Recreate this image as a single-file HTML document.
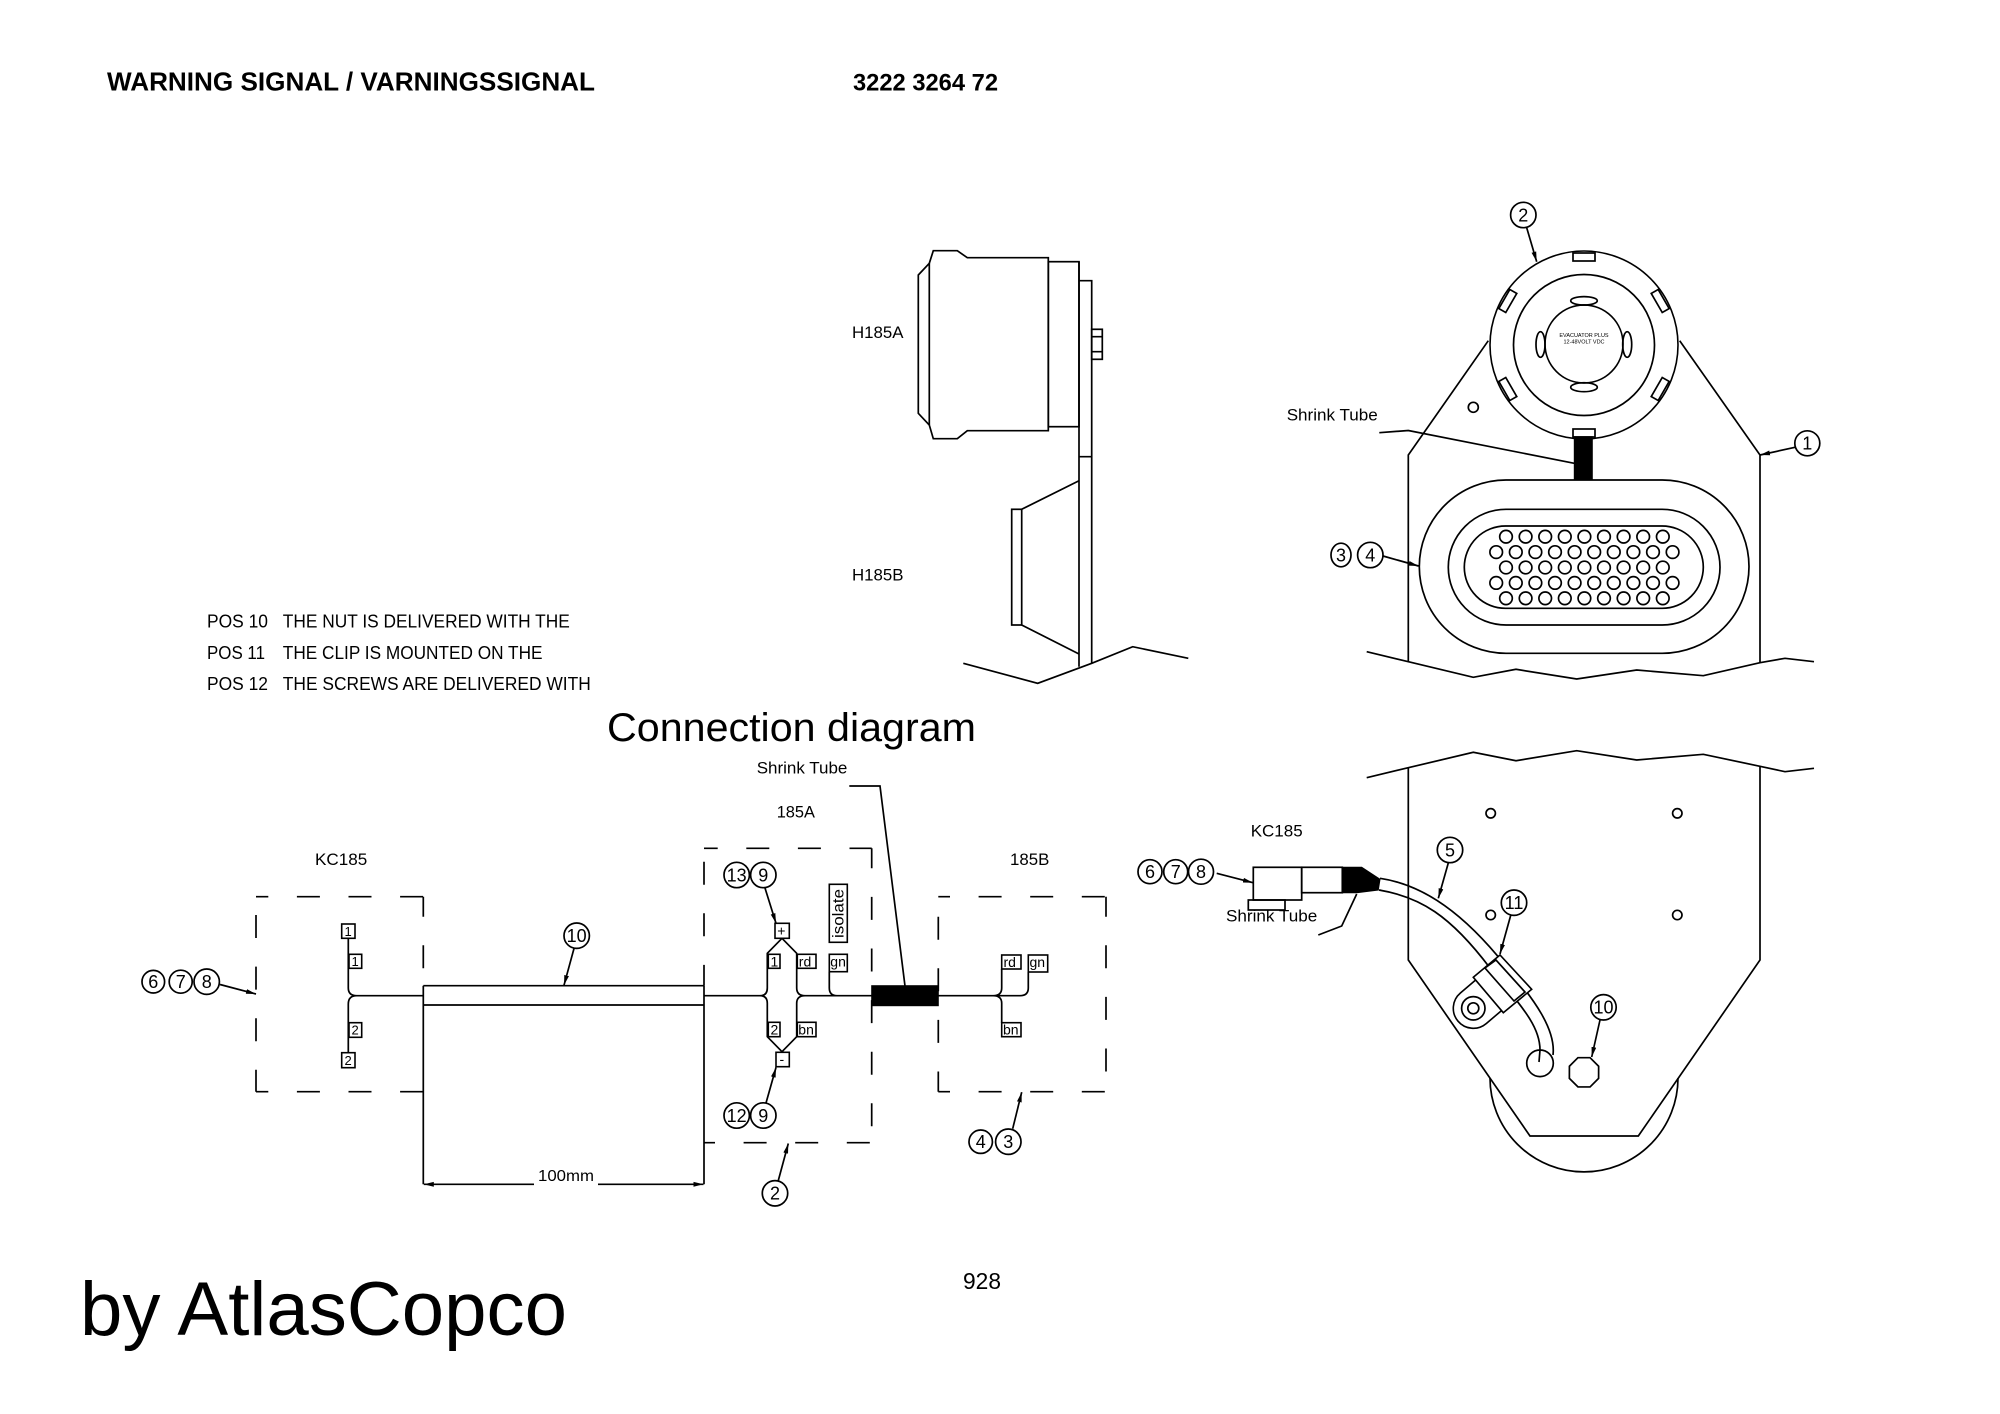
<!DOCTYPE html>
<html><head><meta charset="utf-8"><style>
html,body{margin:0;padding:0;background:#fff;}
svg{display:block;}
text{font-family:"Liberation Sans",Arial,sans-serif;fill:#000;}
.s{fill:none;stroke:#000;stroke-width:1.7;}
.d{fill:none;stroke:#000;stroke-width:1.7;stroke-dasharray:23 28.6;}
.b{fill:#000;stroke:#000;stroke-width:1;}
.w{fill:#fff;stroke:#000;stroke-width:1.6;}
</style></head><body>
<svg width="2000" height="1414" viewBox="0 0 2000 1414" xmlns="http://www.w3.org/2000/svg">
<defs>
<marker id="a" markerWidth="10" markerHeight="6" refX="10" refY="3" orient="auto" markerUnits="userSpaceOnUse"><path d="M0,0.6 L10,3 L0,5.4Z" fill="#000"/></marker>
</defs>
<rect width="2000" height="1414" fill="#fff"/>

<!-- Header texts -->
<text x="107" y="90.5" font-size="26" font-weight="bold" textLength="488" lengthAdjust="spacingAndGlyphs">WARNING SIGNAL / VARNINGSSIGNAL</text>
<text x="853" y="90.5" font-size="24" font-weight="bold" textLength="145" lengthAdjust="spacingAndGlyphs">3222 3264 72</text>

<text x="852" y="338" font-size="17" textLength="51.5" lengthAdjust="spacingAndGlyphs">H185A</text>
<text x="852" y="580.7" font-size="17" textLength="51.5" lengthAdjust="spacingAndGlyphs">H185B</text>

<text x="207" y="627.6" font-size="18" textLength="61" lengthAdjust="spacingAndGlyphs">POS 10</text>
<text x="282.8" y="627.6" font-size="18" textLength="287" lengthAdjust="spacingAndGlyphs">THE NUT IS DELIVERED WITH THE</text>
<text x="207" y="658.9" font-size="18" textLength="58" lengthAdjust="spacingAndGlyphs">POS 11</text>
<text x="282.8" y="658.9" font-size="18" textLength="259.7" lengthAdjust="spacingAndGlyphs">THE CLIP IS MOUNTED ON THE</text>
<text x="207" y="690" font-size="18" textLength="61" lengthAdjust="spacingAndGlyphs">POS 12</text>
<text x="282.8" y="690" font-size="18" textLength="308" lengthAdjust="spacingAndGlyphs">THE SCREWS ARE DELIVERED WITH</text>

<text x="607" y="741" font-size="40" textLength="369" lengthAdjust="spacingAndGlyphs">Connection diagram</text>

<text x="963" y="1289" font-size="23" textLength="38" lengthAdjust="spacingAndGlyphs">928</text>
<text x="80" y="1335" font-size="76" textLength="487" lengthAdjust="spacingAndGlyphs">by AtlasCopco</text>

<!-- Side view H185A / H185B -->
<polygon class="s" points="933.3,250.7 957.3,250.7 967.3,257.7 1048.3,257.7 1048.3,430.7 967.3,430.7 957.3,438.7 933.3,438.7 929.3,425 918.3,413.3 918.3,275 929.3,263.3"/>
<line class="s" x1="929.3" y1="263.3" x2="929.3" y2="425"/>
<rect class="s" x="1048.3" y="261.7" width="30.7" height="165"/>
<path class="s" d="M1079,261.7 V666.7 M1079,280.7 H1091.7 V663.3 M1079,456.7 H1091.7"/>
<rect class="s" x="1091.7" y="329.3" width="10.6" height="30"/>
<path class="s" d="M1091.7,336.7 H1102.3 M1091.7,351.7 H1102.3"/>
<path class="s" d="M1079,480.7 L1021.7,509.3 M1021.7,625 L1079,654"/>
<rect class="s" x="1011.7" y="509.3" width="10" height="115.7"/>
<polyline class="s" points="963.3,663.3 1037.7,683.3 1091.7,663.3 1132.7,646.7 1188.3,658.3"/>

<!-- Top right front view -->
<path class="s" d="M1408.3,661.7 V455 L1488.3,340.7 M1679.7,340.7 L1760,455 V662.7"/>
<polyline class="s" points="1366.7,651.7 1408.3,661.7 1473.3,677.3 1516,669.3 1576.7,679 1636.7,670 1703.3,675.7 1760,662.7 1785,658.3 1814,661.7"/>
<circle class="w" cx="1584" cy="345" r="94"/>
<circle class="s" cx="1584" cy="345" r="70.5"/>
<circle class="s" cx="1584" cy="344" r="39"/>
<ellipse class="s" cx="1584" cy="300.8" rx="13.3" ry="4.2"/>
<ellipse class="s" cx="1584" cy="387.2" rx="13.3" ry="4.5"/>
<ellipse class="s" cx="1540.5" cy="344.5" rx="4.5" ry="12.8"/>
<ellipse class="s" cx="1627.2" cy="344.5" rx="4.5" ry="12.8"/>
<g transform="translate(1584,345)">
<rect class="s" x="-11" y="-92" width="22" height="8" transform="rotate(0)"/>
<rect class="s" x="-11" y="-92" width="22" height="8" transform="rotate(-60)"/>
<rect class="s" x="-11" y="-92" width="22" height="8" transform="rotate(60)"/>
<rect class="s" x="-11" y="-92" width="22" height="8" transform="rotate(120)"/>
<rect class="s" x="-11" y="-92" width="22" height="8" transform="rotate(-120)"/>
<rect class="s" x="-11" y="-92" width="22" height="8" transform="rotate(180)"/>
</g>
<text x="1584" y="337" font-size="5.5" text-anchor="middle" fill="#444">EVACUATOR PLUS</text>
<text x="1584" y="343.5" font-size="5.5" text-anchor="middle" fill="#444">12-48VOLT VDC</text>
<circle class="s" cx="1473.3" cy="407.3" r="5"/>
<rect class="b" x="1574.3" y="436.7" width="18" height="43.3"/>
<rect class="s" x="1419.3" y="480" width="329.7" height="173.3" rx="86.7" ry="86.7"/>
<rect class="s" x="1448.3" y="509.3" width="271.7" height="115.7" rx="57.8" ry="57.8"/>
<rect class="s" x="1464.3" y="526" width="239" height="82.3" rx="41.2" ry="41.2"/>
<g class="s" stroke-width="1.5">
<circle cx="1506" cy="536.7" r="6.3"/><circle cx="1525.6" cy="536.7" r="6.3"/><circle cx="1545.2" cy="536.7" r="6.3"/><circle cx="1564.8" cy="536.7" r="6.3"/><circle cx="1584.4" cy="536.7" r="6.3"/><circle cx="1604" cy="536.7" r="6.3"/><circle cx="1623.6" cy="536.7" r="6.3"/><circle cx="1643.2" cy="536.7" r="6.3"/><circle cx="1662.8" cy="536.7" r="6.3"/>
<circle cx="1496.2" cy="552.1" r="6.3"/><circle cx="1515.8" cy="552.1" r="6.3"/><circle cx="1535.4" cy="552.1" r="6.3"/><circle cx="1555" cy="552.1" r="6.3"/><circle cx="1574.6" cy="552.1" r="6.3"/><circle cx="1594.2" cy="552.1" r="6.3"/><circle cx="1613.8" cy="552.1" r="6.3"/><circle cx="1633.4" cy="552.1" r="6.3"/><circle cx="1653" cy="552.1" r="6.3"/><circle cx="1672.6" cy="552.1" r="6.3"/>
<circle cx="1506" cy="567.5" r="6.3"/><circle cx="1525.6" cy="567.5" r="6.3"/><circle cx="1545.2" cy="567.5" r="6.3"/><circle cx="1564.8" cy="567.5" r="6.3"/><circle cx="1584.4" cy="567.5" r="6.3"/><circle cx="1604" cy="567.5" r="6.3"/><circle cx="1623.6" cy="567.5" r="6.3"/><circle cx="1643.2" cy="567.5" r="6.3"/><circle cx="1662.8" cy="567.5" r="6.3"/>
<circle cx="1496.2" cy="582.9" r="6.3"/><circle cx="1515.8" cy="582.9" r="6.3"/><circle cx="1535.4" cy="582.9" r="6.3"/><circle cx="1555" cy="582.9" r="6.3"/><circle cx="1574.6" cy="582.9" r="6.3"/><circle cx="1594.2" cy="582.9" r="6.3"/><circle cx="1613.8" cy="582.9" r="6.3"/><circle cx="1633.4" cy="582.9" r="6.3"/><circle cx="1653" cy="582.9" r="6.3"/><circle cx="1672.6" cy="582.9" r="6.3"/>
<circle cx="1506" cy="598.3" r="6.3"/><circle cx="1525.6" cy="598.3" r="6.3"/><circle cx="1545.2" cy="598.3" r="6.3"/><circle cx="1564.8" cy="598.3" r="6.3"/><circle cx="1584.4" cy="598.3" r="6.3"/><circle cx="1604" cy="598.3" r="6.3"/><circle cx="1623.6" cy="598.3" r="6.3"/><circle cx="1643.2" cy="598.3" r="6.3"/><circle cx="1662.8" cy="598.3" r="6.3"/>
</g>
<text x="1286.7" y="420.7" font-size="17" textLength="91" lengthAdjust="spacingAndGlyphs">Shrink Tube</text>
<polyline class="s" points="1379.3,432.7 1408.3,430.5 1574.3,463.3"/>
<!-- labels top right -->
<circle class="s" cx="1523.3" cy="215" r="12.7"/><text x="1523.3" y="221.4" font-size="18" text-anchor="middle">2</text>
<line class="s" x1="1526.7" y1="227.7" x2="1536.7" y2="261.7" marker-end="url(#a)"/>
<circle class="s" cx="1807.3" cy="443.3" r="12.5"/><text x="1807.3" y="449.7" font-size="18" text-anchor="middle">1</text>
<line class="s" x1="1795" y1="447.3" x2="1760" y2="455" marker-end="url(#a)"/>
<ellipse class="s" cx="1341" cy="555" rx="10" ry="11.8"/><text x="1341" y="561.4" font-size="18" text-anchor="middle">3</text>
<circle class="s" cx="1370.3" cy="555" r="12.7"/><text x="1370.3" y="561.4" font-size="18" text-anchor="middle">4</text>
<line class="s" x1="1383" y1="556" x2="1418.5" y2="566" marker-end="url(#a)"/>

<!-- Lower right view -->
<polyline class="s" points="1366.7,777.7 1408.3,767.7 1473.3,752.3 1516,760.7 1576.7,750.7 1636.7,760 1703.3,754.3 1760,766.3 1785,771.7 1814,768.3"/>
<path class="s" d="M1408.3,767.7 V960 L1530,1136 H1638.3 L1760,960 V766.3"/>
<path class="s" d="M1490,1078 A94,94 0 0 0 1678,1078"/>
<circle class="s" cx="1490.7" cy="813.3" r="4.7"/>
<circle class="s" cx="1677.3" cy="813.3" r="4.7"/>
<circle class="s" cx="1490.7" cy="915" r="4.7"/>
<circle class="s" cx="1677.3" cy="915" r="4.7"/>
<polygon class="s" points="1584,1056.5 1595.2,1061.1 1599.8,1072.3 1595.2,1083.5 1584,1088.1 1572.8,1083.5 1568.2,1072.3 1572.8,1061.1" transform="rotate(22.5 1584 1072.3)"/>
<!-- cable -->
<path class="s" d="M1380,878.3 C1425,885 1465,915 1505,965 C1535,1000 1556,1030 1553,1055"/>
<path class="s" d="M1379,890 C1420,897 1450,915 1490,968 C1520,1005 1540,1025 1540,1050 L1539,1062"/>
<circle class="s" cx="1540" cy="1063.3" r="13.3"/>
<!-- clip -->
<path class="w" d="M1478,978 L1460.4,993 A20,20 0 0,0 1486.2,1023.6 L1504,1008.5 Z"/>
<circle class="s" cx="1473.3" cy="1008.3" r="11.7"/>
<circle class="s" cx="1473.3" cy="1008.3" r="5.5"/>
<polygon class="w" points="1473.3,977.3 1500,955 1531.7,989.3 1503.3,1012.7"/>
<polygon class="s" points="1485,968 1496,960 1525,992 1514,1001"/>
<!-- connector -->
<rect class="s" x="1253.3" y="867.3" width="48.4" height="32.7"/>
<rect class="s" x="1301.7" y="867.3" width="40.6" height="25.4"/>
<polygon class="b" points="1342.3,867.3 1361.7,867.3 1380,879.3 1378.3,890 1356.7,892.7 1342.3,892.7"/>
<rect class="s" x="1248.3" y="900" width="36.7" height="10"/>
<text x="1226" y="921.7" font-size="17" textLength="91.3" lengthAdjust="spacingAndGlyphs">Shrink Tube</text>
<polyline class="s" points="1318.3,935 1341.7,926 1356.7,894"/>
<text x="1250.7" y="836.7" font-size="17" textLength="52" lengthAdjust="spacingAndGlyphs">KC185</text>
<circle class="s" cx="1150" cy="871.7" r="12"/><text x="1150" y="878.1" font-size="18" text-anchor="middle">6</text>
<circle class="s" cx="1175.7" cy="871.7" r="12"/><text x="1175.7" y="878.1" font-size="18" text-anchor="middle">7</text>
<circle class="s" cx="1201" cy="871.7" r="12.5"/><text x="1201" y="878.1" font-size="18" text-anchor="middle">8</text>
<line class="s" x1="1216.7" y1="873.3" x2="1253" y2="882.7" marker-end="url(#a)"/>
<circle class="s" cx="1450" cy="850" r="12.7"/><text x="1450" y="856.4" font-size="18" text-anchor="middle">5</text>
<line class="s" x1="1448.3" y1="863" x2="1438.3" y2="898.3" marker-end="url(#a)"/>
<circle class="s" cx="1514" cy="902.7" r="12.7"/><text x="1514" y="909.1" font-size="18" text-anchor="middle">11</text>
<line class="s" x1="1510.7" y1="915.4" x2="1500" y2="954" marker-end="url(#a)"/>
<circle class="s" cx="1603.5" cy="1007.3" r="12.7"/><text x="1603.5" y="1013.7" font-size="18" text-anchor="middle">10</text>
<line class="s" x1="1600" y1="1020" x2="1591.7" y2="1057" marker-end="url(#a)"/>

<!-- Connection diagram -->
<text x="315" y="865" font-size="17" textLength="52.3" lengthAdjust="spacingAndGlyphs">KC185</text>
<text x="776.7" y="817.3" font-size="17" textLength="38.3" lengthAdjust="spacingAndGlyphs">185A</text>
<text x="1010" y="865" font-size="17" textLength="39.3" lengthAdjust="spacingAndGlyphs">185B</text>
<text x="756.7" y="773.3" font-size="17" textLength="90.7" lengthAdjust="spacingAndGlyphs">Shrink Tube</text>
<polyline class="s" points="849.3,786 880,786 905,986"/>

<!-- KC185 dashed box -->
<line class="d" x1="256" y1="896.7" x2="423.3" y2="896.7" stroke-dashoffset="10.7"/>
<line class="d" x1="256" y1="1091.7" x2="423.3" y2="1091.7" stroke-dashoffset="10.7"/>
<line class="d" x1="256" y1="896.7" x2="256" y2="1091.7" stroke-dashoffset="33.3"/>
<line class="d" x1="423.3" y1="896.7" x2="423.3" y2="985.7" stroke-dashoffset="3"/>
<!-- 185A dashed box -->
<line class="d" x1="704" y1="848.3" x2="871.7" y2="848.3" stroke-dashoffset="9.3"/>
<line class="d" x1="704" y1="1142.7" x2="871.7" y2="1142.7" stroke-dashoffset="12"/>
<line class="d" x1="704" y1="848.3" x2="704" y2="985.7" stroke-dashoffset="38.2"/>
<line class="d" x1="871.7" y1="848.3" x2="871.7" y2="1142.7" stroke-dashoffset="3"/>
<!-- 185B dashed box -->
<line class="d" x1="938.3" y1="896.7" x2="1106" y2="896.7" stroke-dashoffset="11.3"/>
<line class="d" x1="938.3" y1="1091.7" x2="1106" y2="1091.7" stroke-dashoffset="11.3"/>
<line class="d" x1="938.3" y1="896.7" x2="938.3" y2="1091.7" stroke-dashoffset="31.6"/>
<line class="d" x1="1106" y1="896.7" x2="1106" y2="1091.7" stroke-dashoffset="3"/>

<!-- cable rect & dimension -->
<path class="s" d="M423.3,985.7 H704 M423.3,1005 H704 M423.3,985.7 V1184.3 M704,985.7 V1184.3"/>
<line class="s" x1="534" y1="1184.3" x2="423.8" y2="1184.3" marker-end="url(#a)"/>
<line class="s" x1="598" y1="1184.3" x2="703.5" y2="1184.3" marker-end="url(#a)"/>
<text x="538" y="1181" font-size="16" textLength="56" lengthAdjust="spacingAndGlyphs">100mm</text>
<circle class="s" cx="576.7" cy="935.7" r="12.7"/><text x="576.7" y="942.1" font-size="18" text-anchor="middle">10</text>
<line class="s" x1="574" y1="948.5" x2="564" y2="985.2" marker-end="url(#a)"/>

<!-- KC185 wiring -->
<path class="s" d="M348.3,938.3 V988 Q348.3,995.7 356.7,995.7 H423.3 M356.7,995.7 Q348.3,995.7 348.3,1004 V1052.7"/>
<g font-size="13">
<rect class="w" x="341.7" y="924" width="13.3" height="14.3"/><text x="344.5" y="936">1</text>
<rect class="w" x="349" y="954.3" width="12.7" height="14"/><text x="351.5" y="966">1</text>
<rect class="w" x="349" y="1022.7" width="12.7" height="14.6"/><text x="351.5" y="1034.5">2</text>
<rect class="w" x="341.7" y="1052.7" width="13.3" height="15"/><text x="344.5" y="1065">2</text>
</g>
<circle class="s" cx="153.3" cy="981.7" r="11.3"/><text x="153.3" y="988.1" font-size="18" text-anchor="middle">6</text>
<circle class="s" cx="180.7" cy="981.7" r="11.5"/><text x="180.7" y="988.1" font-size="18" text-anchor="middle">7</text>
<circle class="s" cx="206.7" cy="981.7" r="12.7"/><text x="206.7" y="988.1" font-size="18" text-anchor="middle">8</text>
<line class="s" x1="220" y1="984.5" x2="256" y2="994" marker-end="url(#a)"/>

<!-- 185A wiring -->
<path class="s" d="M704,995.7 H760 M760,995.7 Q767.3,995.7 767.3,988 V953.3 L782,938.3 L796.7,953.3 V988 Q796.7,995.7 805,995.7 M760,995.7 Q767.3,995.7 767.3,1003.3 V1036.7 L782,1051.7 L796.7,1036.7 V1003.3 Q796.7,995.7 805,995.7 H871.7 M829.3,971.7 V988 Q829.3,995.7 837,995.7"/>
<rect class="b" x="871.7" y="985.7" width="66.6" height="20"/>
<path class="s" d="M938.3,995.7 H1020 Q1028.3,995.7 1028.3,988 V972 M993.3,995.7 Q1001.7,995.7 1001.7,988 V969 M993.3,995.7 Q1001.7,995.7 1001.7,1003.3 V1022.7"/>
<g font-size="14">
<rect class="w" x="775" y="923.3" width="14.3" height="15"/><text x="777.3" y="935.5">+</text>
<rect class="w" x="768.3" y="954.3" width="11.7" height="14"/><text x="770.5" y="966.3">1</text>
<rect class="w" x="797.3" y="954.3" width="18.7" height="14"/><text x="798.8" y="966.3">rd</text>
<rect class="w" x="829.3" y="954.3" width="18" height="17.4"/><text x="830.3" y="966.5">gn</text>
<rect class="w" x="768.3" y="1022.3" width="11.7" height="14.4"/><text x="770.5" y="1034.5">2</text>
<rect class="w" x="797.3" y="1022.3" width="18.7" height="14.4"/><text x="798.3" y="1034.5">bn</text>
<rect class="w" x="776" y="1052.3" width="13.3" height="14.4"/><text x="779.5" y="1064">-</text>
<rect class="w" x="829.3" y="884.3" width="18" height="58"/>
<text transform="translate(843.5,938) rotate(-90)" font-size="16" textLength="49" lengthAdjust="spacingAndGlyphs">isolate</text>
<rect class="w" x="1001.7" y="955" width="19.3" height="14"/><text x="1003.5" y="967">rd</text>
<rect class="w" x="1028.3" y="955" width="19.4" height="17"/><text x="1029.5" y="967">gn</text>
<rect class="w" x="1001.7" y="1022.7" width="19.3" height="14"/><text x="1003" y="1034.7">bn</text>
</g>
<circle class="s" cx="736.7" cy="875" r="12.7"/><text x="736.7" y="881.4" font-size="18" text-anchor="middle">13</text>
<circle class="s" cx="763.3" cy="875" r="12.7"/><text x="763.3" y="881.4" font-size="18" text-anchor="middle">9</text>
<line class="s" x1="765" y1="888" x2="776" y2="923.3" marker-end="url(#a)"/>
<circle class="s" cx="736.7" cy="1115.5" r="12.7"/><text x="736.7" y="1121.9" font-size="18" text-anchor="middle">12</text>
<circle class="s" cx="763.3" cy="1115.5" r="12.7"/><text x="763.3" y="1121.9" font-size="18" text-anchor="middle">9</text>
<line class="s" x1="766" y1="1103" x2="776" y2="1067.5" marker-end="url(#a)"/>
<circle class="s" cx="775" cy="1193.3" r="12.7"/><text x="775" y="1199.7" font-size="18" text-anchor="middle">2</text>
<line class="s" x1="778.3" y1="1180.5" x2="788.3" y2="1143.5" marker-end="url(#a)"/>
<circle class="s" cx="980.7" cy="1141.7" r="11.7"/><text x="980.7" y="1148.1" font-size="18" text-anchor="middle">4</text>
<circle class="s" cx="1008.3" cy="1141.7" r="12.7"/><text x="1008.3" y="1148.1" font-size="18" text-anchor="middle">3</text>
<line class="s" x1="1012.7" y1="1128.7" x2="1021.7" y2="1092.2" marker-end="url(#a)"/>
</svg>
</body></html>
